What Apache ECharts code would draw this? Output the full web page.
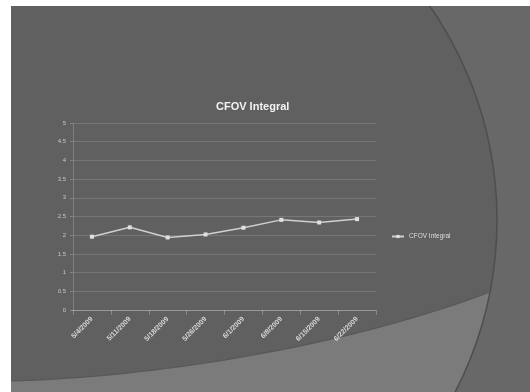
<!DOCTYPE html>
<html>
<head>
<meta charset="utf-8">
<script src="https://cdn.jsdelivr.net/npm/echarts@6/dist/echarts.min.js"></script>
<style>
  html, body { margin: 0; padding: 0; background: #ffffff; }
  #chart { width: 530px; height: 392px; }
</style>
</head>
<body>
<div id="chart"></div>
<script>
// Measurement dates and integral uniformity values
const categories = ['5/4/2009', '5/11/2009', '5/18/2009', '5/26/2009', '6/1/2009', '6/8/2009', '6/15/2009', '6/22/2009'];
const cfovIntegral = [1.96, 2.21, 1.94, 2.02, 2.20, 2.41, 2.34, 2.43];
const yTicks = { min: 0, max: 5, step: 0.5 };
const seriesName = 'CFOV Integral';

const chart = echarts.init(document.getElementById('chart'), null, { renderer: 'canvas' });

// Slide backdrop geometry: big dark disc and a lighter band along its lower edge
const disc = { cx: 123, cy: 220, r: 374 };
const bandCurve = [[11, 381], [160, 377], [350, 345], [487, 293]];

function cubicPoint(p, t) {
  const u = 1 - t;
  return [
    u * u * u * p[0][0] + 3 * u * u * t * p[1][0] + 3 * u * t * t * p[2][0] + t * t * t * p[3][0],
    u * u * u * p[0][1] + 3 * u * u * t * p[1][1] + 3 * u * t * t * p[2][1] + t * t * t * p[3][1]
  ];
}

const curvePts = [];
for (let i = 0; i <= 40; i++) curvePts.push(cubicPoint(bandCurve, i / 40));
const bandPts = curvePts.slice();
// follow the disc rim from the curve's end down to the bottom edge
const a0 = Math.atan2(293 - disc.cy, 487 - disc.cx);
const a1 = Math.asin((392 - disc.cy) / disc.r);
for (let i = 0; i <= 20; i++) {
  const a = a0 + (a1 - a0) * i / 20;
  bandPts.push([disc.cx + disc.r * Math.cos(a), disc.cy + disc.r * Math.sin(a)]);
}
bandPts.push([11, 392]);

const backdrop = [
  { type: 'rect', shape: { x: 11, y: 6, width: 519, height: 386 }, style: { fill: '#686868' }, z: -10, silent: true },
  { type: 'circle', shape: { cx: disc.cx, cy: disc.cy, r: disc.r }, style: { fill: '#606060' }, z: -9, silent: true },
  { type: 'polygon', shape: { points: bandPts }, style: { fill: '#7b7b7b' }, z: -8, silent: true },
  { type: 'polyline', shape: { points: curvePts }, style: { fill: null, stroke: '#585858', lineWidth: 1.2 }, z: -7, silent: true },
  { type: 'circle', shape: { cx: disc.cx, cy: disc.cy, r: disc.r }, style: { fill: null, stroke: '#4e4e4e', lineWidth: 1.5 }, z: -7, silent: true },
  { type: 'rect', shape: { x: 0, y: 0, width: 530, height: 6 }, style: { fill: '#ffffff' }, z: -6, silent: true },
  { type: 'rect', shape: { x: 0, y: 0, width: 11, height: 392 }, style: { fill: '#ffffff' }, z: -6, silent: true }
];

chart.setOption({
  backgroundColor: 'transparent',
  animation: false,
  graphic: backdrop,
  title: {
    text: 'CFOV Integral',
    left: 211,
    top: 96,
    textStyle: { color: '#f2f2f2', fontSize: 11, fontWeight: 'bold', fontFamily: 'Liberation Sans, Arial, sans-serif' }
  },
  legend: {
    data: [seriesName],
    left: 386,
    top: 228,
    itemWidth: 12,
    itemHeight: 4,
    itemGap: 3,
    textStyle: { color: '#dddddd', fontSize: 6.5, fontFamily: 'Liberation Sans, Arial, sans-serif' }
  },
  grid: { left: 73, right: 154, top: 123, bottom: 82, containLabel: false },
  xAxis: {
    type: 'category',
    data: categories,
    boundaryGap: true,
    axisLine: { show: true, lineStyle: { color: 'rgba(255,255,255,0.25)', width: 1 } },
    axisTick: { show: true, lineStyle: { color: 'rgba(255,255,255,0.25)' } },
    axisLabel: {
      rotate: 45,
      margin: 8,
      color: '#d8d8d8',
      fontSize: 7,
      fontWeight: 'bold',
      fontFamily: 'Liberation Sans, Arial, sans-serif'
    },
    splitLine: { show: false }
  },
  yAxis: {
    type: 'value',
    min: yTicks.min,
    max: yTicks.max,
    interval: yTicks.step,
    axisLine: { show: true, lineStyle: { color: 'rgba(255,255,255,0.22)', type: 'dotted' } },
    axisTick: { show: true, length: 3, lineStyle: { color: 'rgba(255,255,255,0.22)' } },
    axisLabel: { margin: 7, color: '#c8c8c8', fontSize: 6, fontFamily: 'Liberation Sans, Arial, sans-serif' },
    splitLine: { show: true, lineStyle: { color: 'rgba(255,255,255,0.14)', width: 1 } }
  },
  series: [{
    name: seriesName,
    type: 'line',
    data: cfovIntegral,
    symbol: 'rect',
    symbolSize: 4,
    showSymbol: true,
    lineStyle: { color: '#cfcfcf', width: 1.5 },
    itemStyle: { color: '#e0e0e0' }
  }]
});
</script>
</body>
</html>
